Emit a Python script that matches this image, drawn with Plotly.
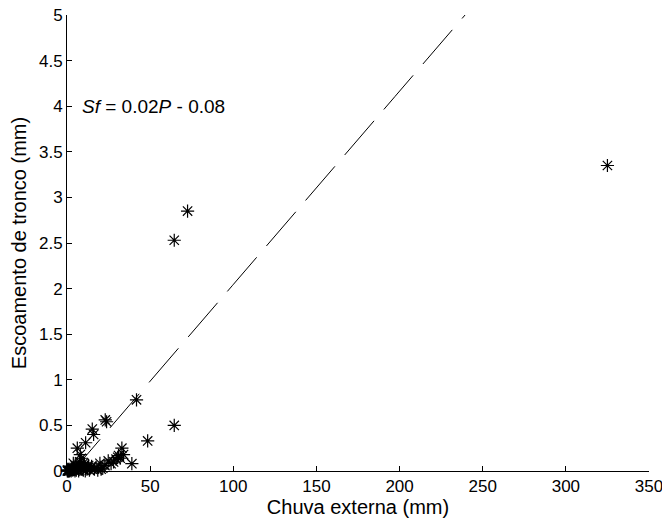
import plotly.graph_objects as go
import numpy as np

# Chuva externa (mm) - external rainfall
rain = [325.0, 72.5, 64.5, 41.8, 23.0, 23.8, 64.5, 48.5, 15.2, 16.0,
        11.2, 6.2, 8.0, 8.6, 33.0, 31.0, 34.0, 29.5, 30.5, 39.0,
        24.8, 19.8, 14.8, 7.6, 10.5, 5.0, 3.2, 12.5, 17.5, 21.5,
        22.8, 9.0, 2.0, 1.0, 0.5, 1.5, 2.5, 3.5, 4.2, 4.8,
        5.6, 6.5, 7.0, 8.2, 9.8, 11.0, 12.0, 13.5, 14.0, 16.5,
        18.5, 20.5, 0.2, 0.8, 2.8, 6.0, 13.0, 10.0, 7.3, 3.8,
        4.0, 26.5, 28.0, 32.0, 1.2, 0.3]
# Escoamento de tronco (mm) - stemflow
stemflow = [3.35, 2.85, 2.53, 0.78, 0.56, 0.54, 0.50, 0.33, 0.46, 0.40,
            0.31, 0.25, 0.18, 0.14, 0.25, 0.17, 0.18, 0.13, 0.15, 0.08,
            0.11, 0.085, 0.05, 0.10, 0.07, 0.06, 0.03, 0.04, 0.04, 0.03,
            0.06, 0.02, 0.01, 0.0, 0.0, 0.005, 0.0, 0.01, 0.02, 0.0,
            0.01, 0.03, 0.0, 0.04, 0.01, 0.0, 0.02, 0.01, 0.03, 0.02,
            0.01, 0.02, 0.0, 0.01, 0.02, 0.05, 0.06, 0.09, 0.07, 0.085,
            0.02, 0.08, 0.10, 0.14, 0.0, 0.01]

slope = 0.0212
intercept = -0.075
fit_start = 2.3

fit_x = np.linspace(fit_start, max(rain), 400)
fit_y = slope * fit_x + intercept

fig = go.Figure()
fig.add_trace(go.Scatter(
    x=fit_x, y=fit_y, mode="lines",
    line=dict(color="black", width=1, dash="45px,15px"),
    hoverinfo="skip", showlegend=False, cliponaxis=True))
fig.add_trace(go.Scatter(
    x=rain, y=stemflow, mode="markers",
    marker=dict(symbol="asterisk-open", size=11, color="black",
                line=dict(color="black", width=1.2)),
    showlegend=False, cliponaxis=False))

font = "Liberation Sans, Arial, Helvetica, sans-serif"
fig.add_annotation(x=8, y=4, xref="x", yref="y", xanchor="left", yanchor="middle",
                   text="<i>Sf</i> = 0.02<i>P</i> - 0.08", showarrow=False,
                   font=dict(family=font, size=19, color="black"))

axis_common = dict(showgrid=False, zeroline=False, showline=True, linecolor="black",
                   linewidth=1, mirror=False, ticks="inside", ticklen=5,
                   tickcolor="black", tickwidth=1, ticklabeloverflow="allow",
                   tickfont=dict(family=font, size=17, color="black"))

fig.update_layout(
    width=662, height=523,
    margin=dict(l=67, r=13, t=15, b=52, autoexpand=False),
    plot_bgcolor="white", paper_bgcolor="white",
    xaxis=dict(range=[0, 350], dtick=50, tick0=0, automargin=False,
               title=dict(text="Chuva externa (mm)", font=dict(family=font, size=20, color="black"), standoff=2),
               **axis_common),
    yaxis=dict(range=[0, 5], dtick=0.5, tick0=0, automargin=False,
               title=dict(text="Escoamento de tronco (mm)", font=dict(family=font, size=20, color="black"), standoff=6),
               **axis_common),
)

fig.write_html("out.html")
